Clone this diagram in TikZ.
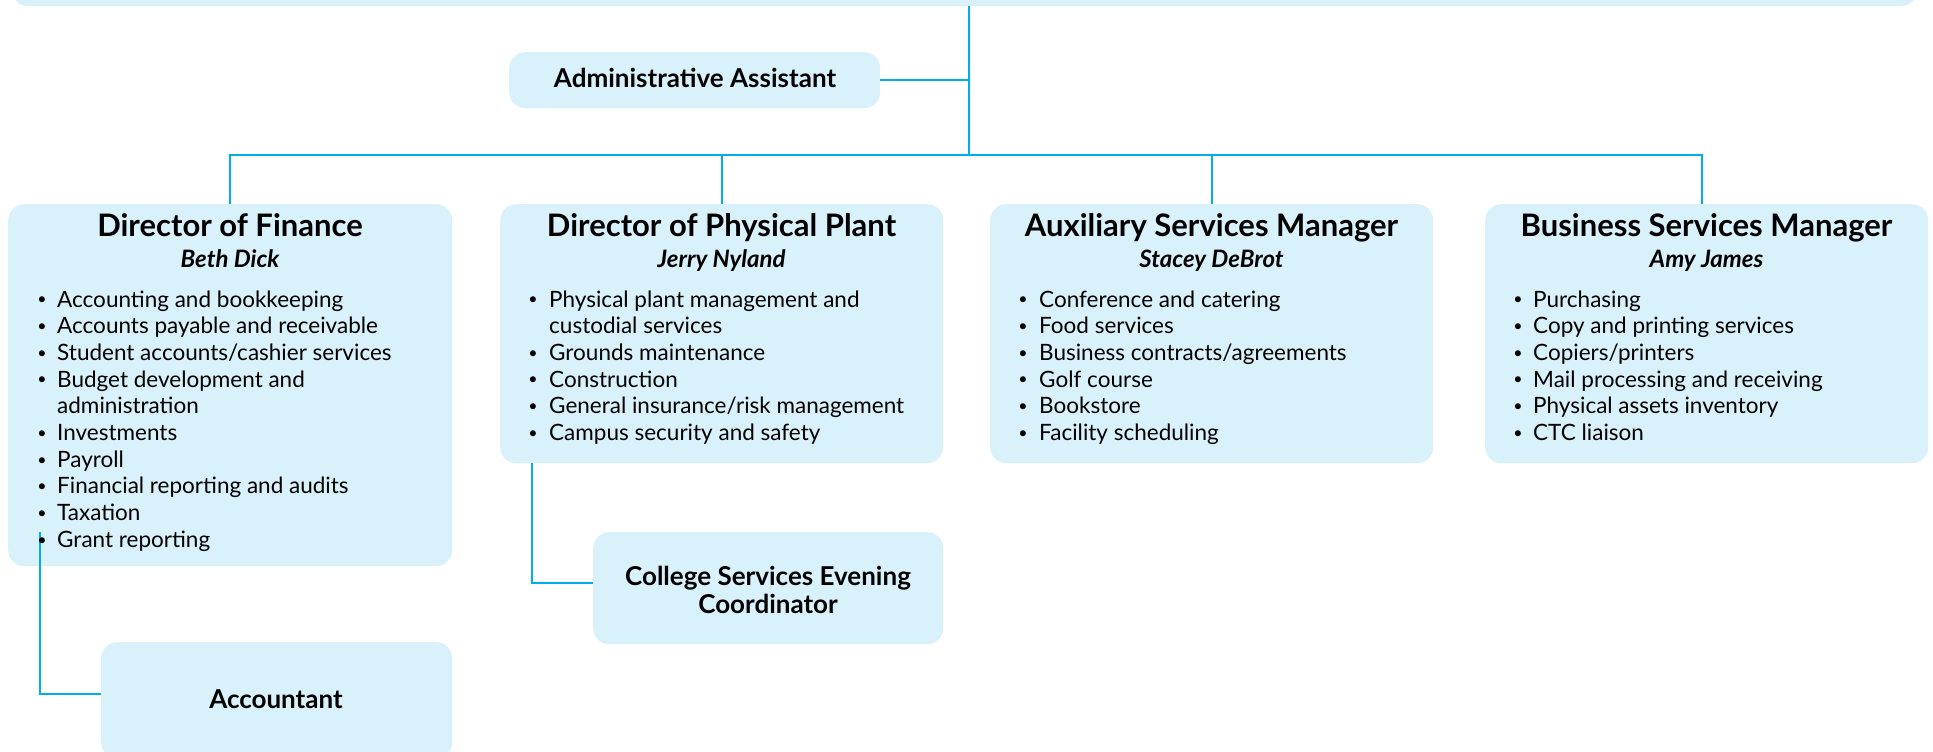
\documentclass[tikz,border=0pt]{standalone}
\usepackage{fontspec}
\setmainfont{Lato}
\definecolor{boxfill}{HTML}{D9F1FB}
\definecolor{linecol}{HTML}{00AEEF}
\tikzset{
  box/.style={fill=boxfill, rounded corners=16pt, draw=none, inner sep=0pt, anchor=north west},
  conn/.style={draw=linecol, line width=2pt},
  ttl/.style={font=\bfseries\fontsize{31}{34}\selectfont, anchor=base, inner sep=0pt},
  nm/.style={font=\bfseries\itshape\fontsize{24}{30}\selectfont, anchor=base, inner sep=0pt},
  itm/.style={font=\fontsize{22.5}{26.7}\selectfont, anchor=base west, inner sep=0pt},
  bul/.style={font=\fontsize{16}{20}\selectfont, anchor=base, inner sep=0pt},
  lbl/.style={font=\bfseries\fontsize{26}{30}\selectfont, align=center, inner sep=0pt},
}
\newcommand{\blist}[4]{% bullet x, text x, first baseline y, list of flag/text
  \foreach \b/\t [count=\i from 0] in {#4}{
    \node[itm] at (#2,#3+\i*26.7) {\t};
    \ifnum\b=1 \node[bul] at (#1,#3+\i*26.7) {\raisebox{2.2pt}{\textbullet}}; \fi
  }}
\begin{document}
\begin{tikzpicture}[x=1pt,y=-1pt]
\useasboundingbox (0,0) rectangle (1933,752);
\clip (0,0) rectangle (1933,752);

% boxes
\node[box, minimum width=1905, minimum height=70] (top) at (12,-64) {};
\node[box, minimum width=371, minimum height=56] (admin) at (509,52) {};
\node[box, minimum width=444, minimum height=362] (fin) at (8,204) {};
\node[box, minimum width=443, minimum height=259] (phys) at (500,204) {};
\node[box, minimum width=443, minimum height=259] (aux) at (990,204) {};
\node[box, minimum width=443, minimum height=259] (bms) at (1485,204) {};
\node[box, minimum width=350, minimum height=112] (csec) at (593,532) {};
\node[box, minimum width=351, minimum height=116] (acct) at (101,642) {};

% connectors
\coordinate (bus) at (969,155);
\coordinate (fa) at (40,532);
\coordinate (pc) at (532,463);
\coordinate (bmsdrop) at ([xshift=-4.5pt]bms.north);
\draw[conn] (top.south -| bus) -- (bus);
\draw[conn] (admin.east) -- (admin.east -| bus);
\draw[conn] (fin.north) |- (bus) -- (bus -| bmsdrop) -- (bmsdrop);
\draw[conn] (phys.north) -- (phys.north |- bus);
\draw[conn] (aux.north) -- (aux.north |- bus);
\draw[conn] (pc) |- ([yshift=5pt]csec.west);
\draw[conn] (fa) |- ([yshift=6pt]acct.west);

% simple labels
\node[lbl, anchor=base] (admintxt) at (695,88) {Administrative Assistant};
\node[lbl, anchor=base] (csectxt) at (768,585) {College Services Evening};
\node[lbl, anchor=base] (csectxt2) at (768,613) {Coordinator};
\node[lbl, anchor=base] (accttxt) at (276,708) {Accountant};

% Director of Finance
\node[ttl] (fint) at (230,236) {Director of Finance};
\node[nm] (finn) at (230,267) {Beth Dick};
\blist{42}{57}{307}{1/Accounting and bookkeeping,1/Accounts payable and receivable,1/{Student accounts/cashier services},1/Budget development and,0/administration,1/Investments,1/Payroll,1/Financial reporting and audits,1/Taxation,1/Grant reporting}

% Director of Physical Plant
\node[ttl] (physt) at (721.5,236) {Director of Physical Plant};
\node[nm] (physn) at (721.5,267) {Jerry Nyland};
\blist{533}{549}{307}{1/Physical plant management and,0/custodial services,1/Grounds maintenance,1/Construction,1/{General insurance/risk management},1/Campus security and safety}

% Auxiliary Services Manager
\node[ttl] (auxt) at (1211.5,236) {Auxiliary Services Manager};
\node[nm] (auxn) at (1211.5,267) {Stacey DeBrot};
\blist{1023}{1039}{307}{1/Conference and catering,1/Food services,1/{Business contracts/agreements},1/Golf course,1/Bookstore,1/Facility scheduling}

% Business Services Manager
\node[ttl] (bmst) at (1706.5,236) {Business Services Manager};
\node[nm] (bmsn) at (1706.5,267) {Amy James};
\blist{1518}{1533}{307}{1/Purchasing,1/Copy and printing services,1/{Copiers/printers},1/Mail processing and receiving,1/Physical assets inventory,1/CTC liaison}
\end{tikzpicture}
\end{document}
